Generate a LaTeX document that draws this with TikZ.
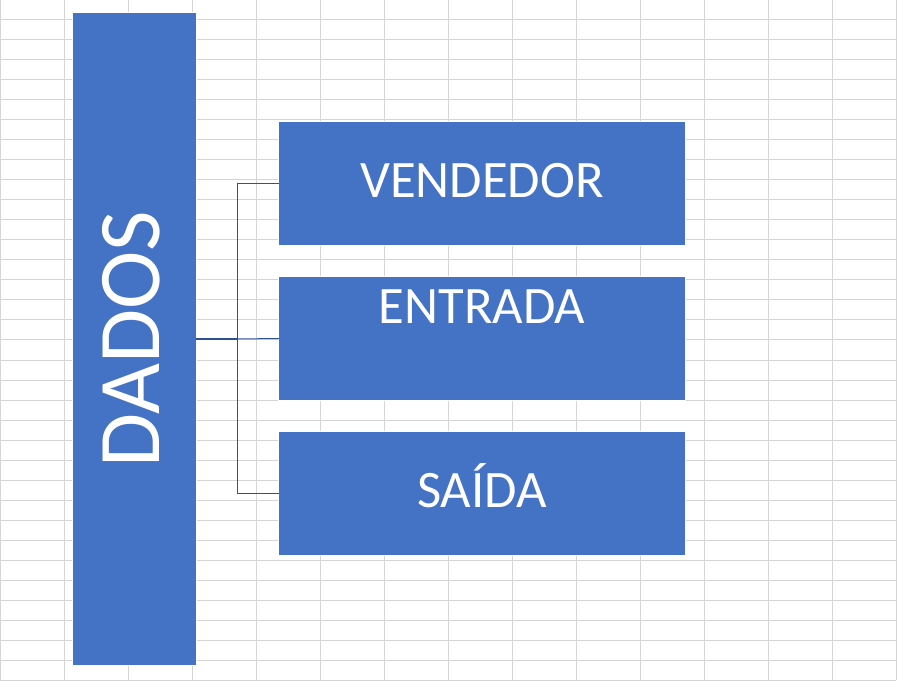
\documentclass[tikz,border=0pt]{standalone}
\usepackage{fontspec}
\setmainfont{Carlito}
\usetikzlibrary{positioning}
\definecolor{boxblue}{HTML}{4472C4}
\definecolor{lineblue}{HTML}{2F528F}
\definecolor{gridgray}{HTML}{D4D4D4}

\begin{document}
\begin{tikzpicture}[
    x=0.75pt, y=-0.75pt,
    every node/.style={rectangle, inner sep=0pt, outer sep=0pt, text=white},
    bluebox/.style={fill=boxblue, preaction={draw=white, line width=2pt}},
    databox/.style={bluebox, minimum width=304.5pt, minimum height=92.25pt, font=\fontsize{39.5}{47}\selectfont, text height=25pt, text depth=4.5pt},
    link/.style={draw=lineblue, line width=0.75pt}
  ]
  \useasboundingbox (0,0) rectangle (897,681);

  % Sheet grid
  \foreach \gx in {0,64,...,896} \draw[gridgray, line width=0.75pt] (\gx,0) -- (\gx,680);
  \foreach \gy in {0,20,...,680} \draw[gridgray, line width=0.75pt] (0,\gy) -- (896,\gy);

  % Main bar
  \node (dados) [bluebox, rotate=90, minimum width=489pt, minimum height=92.25pt, font=\fontsize{66}{80}\selectfont, text height=42pt, text depth=5pt] at (134.5,339) {DADOS};

  % Boxes
  \node (vendedor) [databox] at (482,183.5) {VENDEDOR};
  \node (entrada) [databox, below=24pt of vendedor, text depth=48pt] {ENTRADA};
  \node (saida) [databox, below=24pt of entrada] {SAÍDA};

  % Connectors
  \coordinate (bus) at (237,339);
  \draw [link, line width=1.5pt] (dados.south) -- (bus);
  \draw [link] (bus) |- (vendedor.west);
  \draw [link] (bus) -- (entrada.west);
  \draw [link] (bus) |- (saida.west);
\end{tikzpicture}
\end{document}
